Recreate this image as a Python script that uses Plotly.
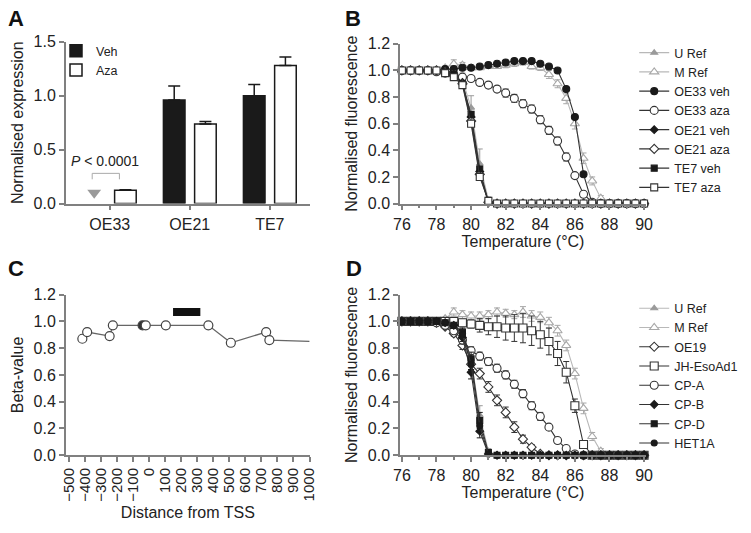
import plotly.graph_objects as go

W, H = 751, 533

# ---------------- Panel A data ----------------
CELL_LINES = ["OE33", "OE21", "TE7"]
VEH = [None, 0.96, 1.00]
VEH_ERR = [None, 0.13, 0.105]
AZA = [0.123, 0.737, 1.282]
AZA_ERR = [0.006, 0.025, 0.077]
OE33_VEH_ND = [0.10]          # "not detected" marker level
P_LABEL = "<i>P</i> < 0.0001"

# ---------------- Panels B / D data ----------------
TEMPS = [76.0, 76.5, 77.0, 77.5, 78.0, 78.5, 79.0, 79.5, 80.0, 80.5,
         81.0, 81.5, 82.0, 82.5, 83.0, 83.5, 84.0, 84.5, 85.0, 85.5,
         86.0, 86.5, 87.0, 87.5, 88.0, 88.5, 89.0, 89.5, 90.0]

U_REF_B = [1.00, 1.00, 1.00, 1.00, 1.00, 0.99, 0.98, 0.93, 0.72, 0.30,
           0.03, 0.00, 0.00, 0.00, 0.00, 0.00, 0.00, 0.00, 0.00, 0.00,
           0.00, 0.00, 0.00, 0.00, 0.00, 0.00, 0.00, 0.00, 0.00]
U_REF_B_ERR = [0, 0, 0, 0, 0, 0, 0.04, 0.05, 0.09, 0.11,
               0.02, 0, 0, 0, 0, 0, 0, 0, 0, 0,
               0, 0, 0, 0, 0, 0, 0, 0, 0]
M_REF_B = [1.00, 1.00, 1.00, 1.00, 1.00, 1.02, 1.05, 1.04, 1.02, 1.02,
           1.03, 1.03, 1.04, 1.05, 1.06, 1.03, 1.02, 0.97, 0.90, 0.79,
           0.60, 0.34, 0.17, 0.04, 0.00, 0.00, 0.00, 0.00, 0.00]
M_REF_B_ERR = [0, 0, 0, 0, 0, 0.01, 0.03, 0.02, 0.01, 0.01,
               0.01, 0.01, 0.02, 0.02, 0.02, 0.02, 0.02, 0.03, 0.03, 0.04,
               0.04, 0.04, 0.03, 0.02, 0, 0, 0, 0, 0]
OE33_VEH = [1.00, 1.00, 1.00, 1.00, 1.00, 1.01, 1.01, 1.02, 1.02, 1.03,
            1.04, 1.05, 1.06, 1.07, 1.07, 1.07, 1.05, 1.03, 1.00, 0.86,
            0.65, 0.22, 0.00, 0.00, 0.00, 0.00, 0.00, 0.00, 0.00]
OE33_AZA = [1.00, 1.00, 1.00, 1.00, 0.99, 0.98, 0.97, 0.95, 0.94, 0.91,
            0.89, 0.86, 0.83, 0.79, 0.75, 0.71, 0.63, 0.55, 0.47, 0.35,
            0.21, 0.07, 0.01, 0.00, 0.00, 0.00, 0.00, 0.00, 0.00]
OE33_AZA_ERR = [0, 0, 0, 0, 0, 0, 0.01, 0.01, 0.02, 0.02,
                0.02, 0.02, 0.03, 0.03, 0.03, 0.03, 0.03, 0.03, 0.03, 0.03,
                0.02, 0.02, 0.01, 0, 0, 0, 0, 0, 0]
OE21_VEH = [1.00, 1.00, 1.00, 1.00, 1.00, 0.99, 0.97, 0.91, 0.65, 0.24,
            0.01, 0.00, 0.00, 0.00, 0.00, 0.00, 0.00, 0.00, 0.00, 0.00,
            0.00, 0.00, 0.00, 0.00, 0.00, 0.00, 0.00, 0.00, 0.00]
OE21_AZA = [1.00, 1.00, 1.00, 1.00, 1.00, 0.99, 0.96, 0.90, 0.62, 0.22,
            0.01, 0.00, 0.00, 0.00, 0.00, 0.00, 0.00, 0.00, 0.00, 0.00,
            0.00, 0.00, 0.00, 0.00, 0.00, 0.00, 0.00, 0.00, 0.00]
TE7_VEH = [1.00, 1.00, 1.00, 1.00, 1.00, 0.99, 0.97, 0.90, 0.67, 0.26,
           0.01, 0.00, 0.00, 0.00, 0.00, 0.00, 0.00, 0.00, 0.00, 0.00,
           0.00, 0.00, 0.00, 0.00, 0.00, 0.00, 0.00, 0.00, 0.00]
TE7_AZA = [1.00, 1.00, 1.00, 1.00, 1.00, 0.98, 0.95, 0.89, 0.60, 0.20,
           0.02, 0.00, 0.00, 0.00, 0.00, 0.00, 0.00, 0.00, 0.00, 0.00,
           0.00, 0.00, 0.00, 0.00, 0.00, 0.00, 0.00, 0.00, 0.00]

U_REF_D = [1.00, 1.00, 1.00, 1.00, 1.00, 0.99, 0.97, 0.92, 0.72, 0.30,
           0.03, 0.00, 0.00, 0.00, 0.00, 0.00, 0.00, 0.00, 0.00, 0.00,
           0.00, 0.00, 0.00, 0.00, 0.00, 0.00, 0.00, 0.00, 0.00]
U_REF_D_ERR = [0, 0, 0, 0, 0, 0, 0.02, 0.04, 0.06, 0.07,
               0.02, 0, 0, 0, 0, 0, 0, 0, 0, 0,
               0, 0, 0, 0, 0, 0, 0, 0, 0]
M_REF_D = [1.00, 1.00, 1.00, 1.00, 1.00, 1.02, 1.07, 1.05, 1.04, 1.04,
           1.05, 1.07, 1.06, 1.05, 1.07, 1.04, 1.03, 0.99, 0.93, 0.82,
           0.61, 0.35, 0.14, 0.03, 0.00, 0.00, 0.00, 0.00, 0.00]
M_REF_D_ERR = [0, 0, 0, 0, 0, 0.01, 0.03, 0.03, 0.03, 0.03,
               0.03, 0.03, 0.03, 0.03, 0.04, 0.04, 0.04, 0.04, 0.04, 0.04,
               0.04, 0.04, 0.03, 0.02, 0, 0, 0, 0, 0]
OE19 = [1.00, 1.00, 1.00, 1.00, 0.99, 0.96, 0.91, 0.82, 0.68, 0.61,
        0.51, 0.41, 0.32, 0.21, 0.12, 0.06, 0.01, 0.00, 0.00, 0.00,
        0.00, 0.00, 0.00, 0.00, 0.00, 0.00, 0.00, 0.00, 0.00]
OE19_ERR = [0, 0, 0, 0, 0, 0.01, 0.02, 0.03, 0.04, 0.04,
            0.04, 0.04, 0.04, 0.04, 0.03, 0.02, 0.01, 0, 0, 0,
            0, 0, 0, 0, 0, 0, 0, 0, 0]
JH_ESOAD1 = [1.00, 1.00, 1.00, 1.00, 1.00, 1.00, 1.00, 0.99, 0.98, 0.97,
             0.96, 0.96, 0.95, 0.95, 0.95, 0.93, 0.90, 0.85, 0.76, 0.62,
             0.37, 0.08, 0.00, 0.00, 0.00, 0.00, 0.00, 0.00, 0.00]
JH_ESOAD1_ERR = [0, 0, 0, 0, 0, 0, 0.01, 0.02, 0.03, 0.05,
                 0.06, 0.08, 0.09, 0.10, 0.11, 0.11, 0.10, 0.10, 0.09, 0.08,
                 0.05, 0.02, 0, 0, 0, 0, 0, 0, 0]
CP_A = [1.00, 1.00, 1.00, 1.00, 0.99, 0.97, 0.93, 0.86, 0.78, 0.74,
        0.70, 0.65, 0.60, 0.53, 0.46, 0.37, 0.29, 0.21, 0.11, 0.05,
        0.01, 0.00, 0.00, 0.00, 0.00, 0.00, 0.00, 0.00, 0.00]
CP_A_ERR = [0, 0, 0, 0, 0, 0.01, 0.02, 0.03, 0.03, 0.03,
            0.03, 0.03, 0.03, 0.03, 0.03, 0.03, 0.03, 0.02, 0.02, 0.01,
            0, 0, 0, 0, 0, 0, 0, 0, 0]
CP_B = [1.00, 1.00, 1.00, 1.00, 1.00, 0.99, 0.97, 0.88, 0.62, 0.18,
        0.01, 0.00, 0.00, 0.00, 0.00, 0.00, 0.00, 0.00, 0.00, 0.00,
        0.00, 0.00, 0.00, 0.00, 0.00, 0.00, 0.00, 0.00, 0.00]
CP_B_ERR = [0, 0, 0, 0, 0, 0, 0.01, 0.03, 0.05, 0.05,
            0.01, 0, 0, 0, 0, 0, 0, 0, 0, 0,
            0, 0, 0, 0, 0, 0, 0, 0, 0]
CP_D = [1.00, 1.00, 1.00, 1.00, 1.00, 0.99, 0.97, 0.92, 0.72, 0.26,
        0.02, 0.00, 0.00, 0.00, 0.00, 0.00, 0.00, 0.00, 0.00, 0.00,
        0.00, 0.00, 0.00, 0.00, 0.00, 0.00, 0.00, 0.00, 0.00]
CP_D_ERR = [0, 0, 0, 0, 0, 0, 0.01, 0.03, 0.05, 0.06,
            0.01, 0, 0, 0, 0, 0, 0, 0, 0, 0,
            0, 0, 0, 0, 0, 0, 0, 0, 0]
HET1A = [1.00, 1.00, 1.00, 1.00, 1.00, 0.99, 0.97, 0.90, 0.68, 0.22,
         0.01, 0.00, 0.00, 0.00, 0.00, 0.00, 0.00, 0.00, 0.00, 0.00,
         0.00, 0.00, 0.00, 0.00, 0.00, 0.00, 0.00, 0.00, 0.00]
HET1A_ERR = [0, 0, 0, 0, 0, 0, 0.01, 0.02, 0.04, 0.05,
             0.01, 0, 0, 0, 0, 0, 0, 0, 0, 0,
             0, 0, 0, 0, 0, 0, 0, 0, 0]

TEMP_TICKS = [76, 78, 80, 82, 84, 86, 88, 90]

# ---------------- Panel C data ----------------
TSS_POS = [-415, -385, -245, -225, -40, -20, 105, 370, 510, 730, 750]
BETA = [0.87, 0.92, 0.89, 0.97, 0.97, 0.97, 0.97, 0.97, 0.84, 0.92, 0.86]
BETA_FILLED = [False, False, False, False, True, False, False, False, False, False, False]
TSS_TAIL_POS = [1000]
BETA_TAIL = [0.85]
REGION_START, REGION_END = 150, 320
REGION_LOW, REGION_HIGH = 1.04, 1.10
TSS_TICKS = [-500, -400, -300, -200, -100, 0, 100, 200, 300, 400,
             500, 600, 700, 800, 900, 1000]
TSS_TICKTEXT = [("\u2212" + str(-t)) if t < 0 else str(t) for t in TSS_TICKS]

# ---------------- styling ----------------
FONT = "Arial, Liberation Sans, Helvetica, sans-serif"
AX = "#808080"
TXT = "#222222"
DARK = "#1a1a1a"
LINE_DARK = "#333333"
REF_LINE = "#b8b8b8"


def px_x(p):
    return p / W


def px_y(p):
    return 1 - p / H


def nz(err):
    return [e if e else None for e in err]


fig = go.Figure()

# ---- Panel A: bars ----
CAT_X = list(range(len(CELL_LINES)))
BAR_W = 0.27
VEH_OFF = -0.33
AZA_OFF = 0.06
fig.add_trace(go.Bar(
    x=CAT_X, y=VEH, name="Veh", offset=VEH_OFF, width=BAR_W,
    marker=dict(color=DARK, line=dict(color=DARK, width=1.5)),
    error_y=dict(type="data", array=VEH_ERR, arrayminus=[0, 0, 0], symmetric=False,
                 color=DARK, thickness=1.5, width=6),
    xaxis="x", yaxis="y", legend="legend"))
fig.add_trace(go.Bar(
    x=CAT_X, y=AZA, name="Aza", offset=AZA_OFF, width=BAR_W,
    marker=dict(color="white", line=dict(color=DARK, width=1.5)),
    error_y=dict(type="data", array=AZA_ERR, arrayminus=[0, 0, 0], symmetric=False,
                 color=DARK, thickness=1.5, width=6),
    xaxis="x", yaxis="y", legend="legend"))
fig.add_trace(go.Scatter(
    x=[CAT_X[0] + VEH_OFF + BAR_W / 2], y=OE33_VEH_ND, mode="markers",
    marker=dict(symbol="triangle-down", size=12, color="#9a9a9a"),
    showlegend=False, xaxis="x", yaxis="y", cliponaxis=False))


def series(y, err, name, symbol, size, fill, edge, line_color, xa, ya, legend):
    kw = {}
    if err is not None:
        kw["error_y"] = dict(type="data", array=nz(err), color=edge, thickness=1, width=3)
    return go.Scatter(
        x=TEMPS, y=y, name=name, mode="lines+markers",
        line=dict(color=line_color, width=1.1),
        marker=dict(symbol=symbol, size=size, color=fill, line=dict(color=edge, width=1.1)),
        xaxis=xa, yaxis=ya, legend=legend, cliponaxis=False, **kw)


# ---- Panel B ----
B_SERIES = [
    (U_REF_B, U_REF_B_ERR, "U Ref", "triangle-up", 6, "#9a9a9a", "#9a9a9a", REF_LINE),
    (M_REF_B, M_REF_B_ERR, "M Ref", "triangle-up", 8, "white", "#a8a8a8", REF_LINE),
    (OE33_VEH, None, "OE33 veh", "circle", 7, DARK, DARK, LINE_DARK),
    (OE33_AZA, OE33_AZA_ERR, "OE33 aza", "circle", 8, "white", LINE_DARK, LINE_DARK),
    (OE21_VEH, None, "OE21 veh", "diamond", 6, DARK, DARK, LINE_DARK),
    (OE21_AZA, None, "OE21 aza", "diamond", 7, "white", LINE_DARK, LINE_DARK),
    (TE7_VEH, None, "TE7 veh", "square", 6, DARK, DARK, LINE_DARK),
    (TE7_AZA, None, "TE7 aza", "square", 7, "white", LINE_DARK, LINE_DARK),
]
for s in B_SERIES:
    fig.add_trace(series(*s, "x2", "y2", "legend2"))

# ---- Panel D ----
D_SERIES = [
    (U_REF_D, U_REF_D_ERR, "U Ref", "triangle-up", 6, "#9a9a9a", "#9a9a9a", REF_LINE),
    (M_REF_D, M_REF_D_ERR, "M Ref", "triangle-up", 8, "white", "#a8a8a8", REF_LINE),
    (OE19, OE19_ERR, "OE19", "diamond", 7, "white", LINE_DARK, LINE_DARK),
    (JH_ESOAD1, JH_ESOAD1_ERR, "JH-EsoAd1", "square", 8, "white", LINE_DARK, LINE_DARK),
    (CP_A, CP_A_ERR, "CP-A", "circle", 8, "white", LINE_DARK, LINE_DARK),
    (CP_B, CP_B_ERR, "CP-B", "diamond", 6, DARK, DARK, LINE_DARK),
    (CP_D, CP_D_ERR, "CP-D", "square", 6, DARK, DARK, LINE_DARK),
    (HET1A, HET1A_ERR, "HET1A", "circle", 6, DARK, DARK, LINE_DARK),
]
for s in D_SERIES:
    fig.add_trace(series(*s, "x4", "y4", "legend3"))

# ---- Panel C ----
fig.add_trace(go.Bar(
    x=[(REGION_START + REGION_END) / 2], y=[REGION_HIGH - REGION_LOW], base=[REGION_LOW],
    width=[REGION_END - REGION_START], marker=dict(color="#111111", line=dict(width=0)),
    showlegend=False, xaxis="x3", yaxis="y3"))
fig.add_trace(go.Scatter(
    x=TSS_POS + TSS_TAIL_POS, y=BETA + BETA_TAIL, mode="lines",
    line=dict(color="#666666", width=1.3), showlegend=False, xaxis="x3", yaxis="y3"))
fig.add_trace(go.Scatter(
    x=TSS_POS, y=BETA, mode="markers",
    marker=dict(symbol="circle", size=9,
                color=["#333333" if f else "white" for f in BETA_FILLED],
                line=dict(color="#444444", width=1.2)),
    showlegend=False, xaxis="x3", yaxis="y3", cliponaxis=False))

# ---- annotations / shapes ----
BRACKET_L, BRACKET_R = -0.22, 0.12
BRACKET_TOP, BRACKET_FOOT = 0.28, 0.225
shapes = [dict(type="path", xref="x", yref="y",
               path=f"M {BRACKET_L},{BRACKET_FOOT} L {BRACKET_L},{BRACKET_TOP} "
                    f"L {BRACKET_R},{BRACKET_TOP} L {BRACKET_R},{BRACKET_FOOT}",
               line=dict(color="#aaaaaa", width=1))]

annotations = [
    dict(text=P_LABEL, x=-0.06, y=0.395, xref="x", yref="y", showarrow=False,
         font=dict(size=14, color=TXT, family=FONT)),
]
for letter, (lx, ly) in {"A": (9, 11), "B": (353, 11), "C": (9, 269), "D": (354, 269)}.items():
    annotations.append(dict(text=f"<b>{letter}</b>", x=px_x(lx), y=px_y(ly), xref="paper", yref="paper",
                            showarrow=False, xanchor="center", yanchor="middle",
                            font=dict(size=22, color="#111111", family=FONT)))


def axis(**kw):
    base = dict(showline=True, linecolor=AX, linewidth=1.5, ticks="outside", ticklen=5,
                tickwidth=1.5, tickcolor=AX, showgrid=False, zeroline=False,
                tickfont=dict(size=16, color=TXT, family=FONT),
                title_font=dict(size=16, color=TXT, family=FONT))
    base.update(kw)
    return base


legend_common = dict(xanchor="left", yanchor="top", bgcolor="rgba(0,0,0,0)",
                     font=dict(size=12.5, color=TXT, family=FONT), tracegroupgap=0)

fig.update_layout(
    width=W, height=H, margin=dict(l=0, r=0, t=0, b=0),
    paper_bgcolor="white", plot_bgcolor="white",
    font=dict(family=FONT, color=TXT),
    barmode="overlay",
    xaxis=axis(domain=[px_x(60), px_x(309)], range=[-0.55, 2.5], tickvals=CAT_X,
               ticktext=CELL_LINES, anchor="y"),
    yaxis=axis(domain=[px_y(202), px_y(35)], range=[0, 1.5], dtick=0.5, tickformat=".1f",
               anchor="x", title=dict(text="Normalised expression", standoff=6)),
    xaxis2=axis(domain=[px_x(401), px_x(652)], range=[75.89, 90.11], tickvals=TEMP_TICKS,
                anchor="y2", minor=dict(dtick=1, ticks="outside", ticklen=3, tickcolor=AX),
                title=dict(text="Temperature (°C)", standoff=4)),
    yaxis2=axis(domain=[px_y(202), px_y(37)], range=[0, 1.2], dtick=0.2, tickformat=".1f",
                anchor="x2", title=dict(text="Normalised fluorescence", standoff=6)),
    xaxis3=axis(domain=[px_x(60), px_x(309)], range=[-518, 1002], tickvals=TSS_TICKS,
                ticktext=TSS_TICKTEXT, tickangle=-90, anchor="y3",
                tickfont=dict(size=15, color=TXT, family=FONT),
                title=dict(text="Distance from TSS", standoff=6)),
    yaxis3=axis(domain=[px_y(462), px_y(296)], range=[0, 1.2], dtick=0.2, tickformat=".1f",
                anchor="x3", title=dict(text="Beta-value", standoff=6)),
    xaxis4=axis(domain=[px_x(401), px_x(652)], range=[75.89, 90.11], tickvals=TEMP_TICKS,
                anchor="y4", minor=dict(dtick=1, ticks="outside", ticklen=3, tickcolor=AX),
                title=dict(text="Temperature (°C)", standoff=4)),
    yaxis4=axis(domain=[px_y(462), px_y(296)], range=[0, 1.2], dtick=0.2, tickformat=".1f",
                anchor="x4", title=dict(text="Normalised fluorescence", standoff=6)),
    legend=dict(x=px_x(50), y=px_y(29), **legend_common),
    legend2=dict(x=px_x(640), y=px_y(31), **legend_common),
    legend3=dict(x=px_x(640), y=px_y(295), **legend_common),
    shapes=shapes, annotations=annotations,
)

fig.write_html("out.html", config={"displayModeBar": False},
               post_script="document.body.style.margin='0';")
